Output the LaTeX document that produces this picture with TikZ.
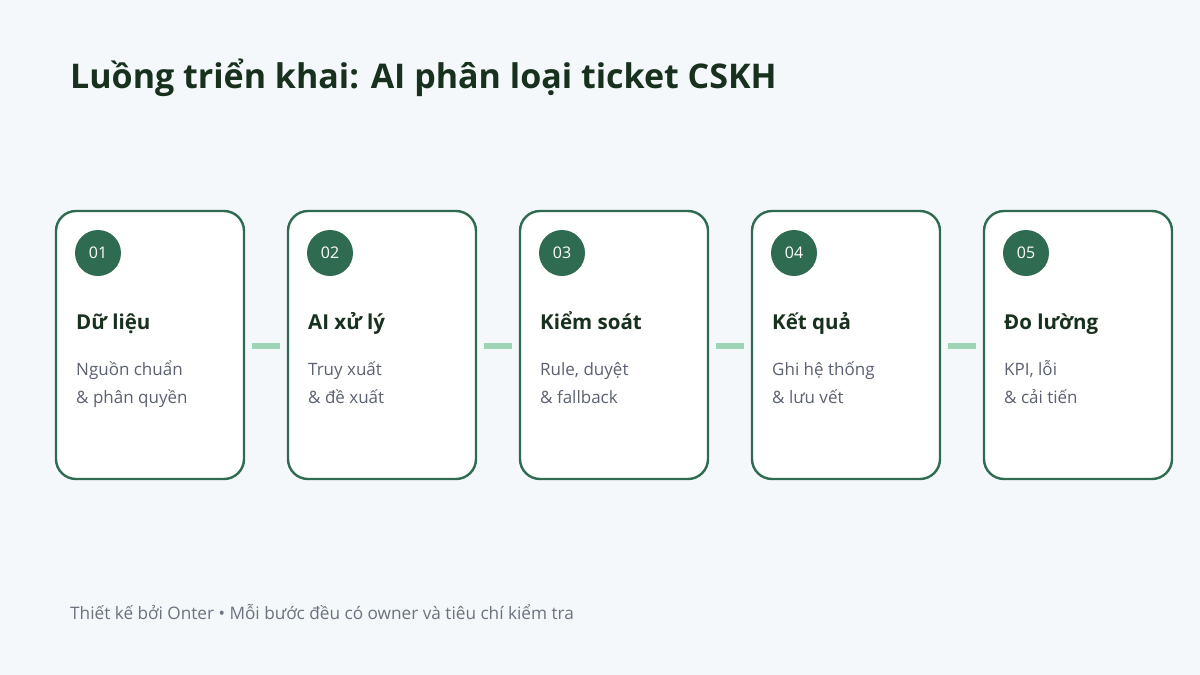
\documentclass[tikz,border=0pt]{standalone}
\usepackage{fontspec}
\setmainfont{Open Sans}
\definecolor{bgc}{HTML}{F4F8FA}
\definecolor{titlec}{HTML}{18301E}
\definecolor{borderc}{HTML}{2F6B50}
\definecolor{bodyc}{HTML}{5B6172}
\definecolor{footc}{HTML}{6B7280}
\definecolor{linkc}{HTML}{9DD4B6}
\begin{document}
\begin{tikzpicture}[x=1pt,y=-1pt,
  card/.style={draw=borderc,line width=2.4pt,fill=white,rounded corners=20pt},
  badge/.style={circle,fill=borderc,minimum size=46pt,inner sep=0pt,text=white,font=\fontsize{16}{18}\selectfont},
  head/.style={anchor=base west,inner sep=0pt,text=titlec,font=\fontsize{20.5}{24}\selectfont\bfseries},
  body/.style={anchor=base west,inner sep=0pt,text=bodyc,font=\fontsize{17}{20}\selectfont},
  link/.style={draw=linkc,line width=5.5pt}]
\fill[bgc] (0,0) rectangle (1200,675);
\useasboundingbox (0,0) rectangle (1200,675);
\node[anchor=base west,inner sep=0pt,text=titlec,font=\fontsize{34}{40}\selectfont\bfseries] (title) at (70,88) {Luồng triển khai: AI phân loại ticket CSKH};
\foreach \i/\n/\h/\a/\b in {0/01/Dữ liệu/Nguồn chuẩn/\& phân quyền,1/02/AI xử lý/Truy xuất/\& đề xuất,2/03/Kiểm soát/{Rule, duyệt}/\& fallback,3/04/Kết quả/Ghi hệ thống/\& lưu vết,4/05/Đo lường/{KPI, lỗi}/\& cải tiến}{
  \pgfmathsetmacro{\xx}{56+232*\i}
  \draw[card] (\xx,211) rectangle ++(188,268);
  \node[badge] (b\i) at (\xx+42,253) {\n};
  \node[head] (h\i) at (\xx+20,329) {\h};
  \node[body] (p\i) at (\xx+20,375) {\a};
  \node[body] (q\i) at (\xx+20,403) {\b};
  \coordinate (L\i) at (\xx,346);
  \coordinate (R\i) at (\xx+188,346);
}
\foreach \i/\j in {0/1,1/2,2/3,3/4}{
  \draw[link] ([xshift=8pt]R\i) -- ([xshift=-8pt]L\j);
}
\node[anchor=base west,inner sep=0pt,text=footc,font=\fontsize{17.2}{20}\selectfont] (foot) at (70,619) {Thiết kế bởi Onter • Mỗi bước đều có owner và tiêu chí kiểm tra};
\end{tikzpicture}
\end{document}
